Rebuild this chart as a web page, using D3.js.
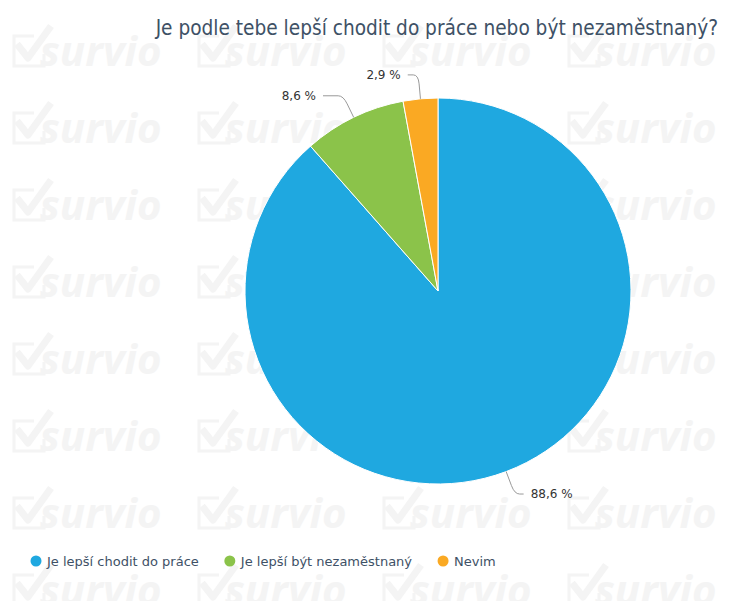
<!DOCTYPE html>
<html>
<head>
<meta charset="utf-8">
<script src="https://cdn.jsdelivr.net/npm/d3@7"></script>
<style>
  body { margin: 0; background: #fff; }
  svg { display: block; }
</style>
</head>
<body>
<div id="chart"></div>
<script>
// chart data
var title = "Je podle tebe lepší chodit do práce nebo být nezaměstnaný?";
var categories = ["Je lepší chodit do práce", "Je lepší být nezaměstnaný", "Nevim"];
var values = [88.6, 8.6, 2.9];
var colors = ["#1fa8e0", "#8bc34a", "#faa923"];

var width = 737, height = 601;
var cx = 438, cy = 291, radius = 193;

var svg = d3.select("#chart").append("svg")
    .attr("width", width)
    .attr("height", height);

// survio watermark tiles behind everything
function draw_watermark (ctx) {
  var g = ctx.append("g").attr("class", "watermark");
  var cols = d3.range(4).map(function (i) { return 14 + i * 185; });
  var rows = d3.range(8).map(function (i) { return 66 + i * 77; });
  rows.forEach(function (y0) {
    cols.forEach(function (x0) {
      g.append("path")
       .attr("d", "M" + (x0 + 20) + "," + (y0 - 30) + " L" + x0 + "," + (y0 - 30) +
                  " L" + x0 + "," + y0 + " L" + (x0 + 30) + "," + y0 + " L" + (x0 + 30) + "," + (y0 - 12))
       .attr("fill", "none")
       .attr("stroke", "#f4f4f4")
       .attr("stroke-width", 3);
      g.append("path")
       .attr("d", "M" + (x0 + 3) + "," + (y0 - 22) + " L" + (x0 + 14) + "," + (y0 - 8) +
                  " L" + (x0 + 37) + "," + (y0 - 40))
       .attr("fill", "none")
       .attr("stroke", "#f4f4f4")
       .attr("stroke-width", 7)
       .attr("stroke-linejoin", "round");
      g.append("text")
       .attr("x", x0 + 26)
       .attr("y", y0)
       .attr("font-family", "'Open Sans', sans-serif")
       .attr("font-weight", "bold")
       .attr("font-style", "italic")
       .attr("font-size", 42)
       .attr("fill", "#f4f4f4")
       .text("survio");
    });
  });
}
draw_watermark(svg);

// title, right aligned, sized to its span
var tt = svg.append("text")
   .attr("x", 718)
   .attr("y", 35)
   .attr("text-anchor", "end")
   .attr("font-family", "'DejaVu Sans Condensed', 'DejaVu Sans', sans-serif")
   .attr("font-size", 20)
   .attr("fill", "#3e5166")
   .text(title);
var tw = tt.node().getComputedTextLength();
tt.attr("font-size", 20 * 563 / tw);

// pie, clockwise from 12 o'clock
var pie = d3.pie().sort(null).value(function (d) { return d; });
var arcs = pie(values);
var arc = d3.arc().innerRadius(0).outerRadius(radius);

var plot = svg.append("g").attr("transform", "translate(" + cx + "," + cy + ")");

plot.selectAll("path.slice")
    .data(arcs)
    .enter().append("path")
    .attr("class", "slice")
    .attr("d", arc)
    .attr("fill", function (d, i) { return colors[i]; })
    .attr("stroke", "#fff")
    .attr("stroke-width", 1);

// data labels with bent connectors
function polar (r, a) {
  return [r * Math.sin(a), -r * Math.cos(a)];
}

var fmt = function (v) { return d3.format(".1f")(v).replace(".", ",") + " %"; };

arcs.forEach(function (d) {
  var mid = (d.startAngle + d.endAngle) / 2;
  var right = Math.sin(mid) >= 0;
  var p = polar(radius, mid);
  var b = polar(radius + 24, mid);
  // left side labels get a longer leg the more sideways they sit
  var leg = right ? 9 : -(8 + 28 * Math.abs(Math.sin(mid)));
  var e = [b[0] + leg, b[1]];
  var c = polar(radius + 15, mid);
  plot.append("path")
      .attr("d", "M" + p[0] + "," + p[1] + " L" + c[0] + "," + c[1] +
                 " Q" + b[0] + "," + b[1] + " " + (b[0] + (right ? 5 : -5)) + "," + b[1] +
                 " L" + e[0] + "," + e[1])
      .attr("fill", "none")
      .attr("stroke", "#999")
      .attr("stroke-width", 1);
  plot.append("text")
      .attr("x", e[0] + (right ? 7 : -7))
      .attr("y", e[1] + 4)
      .attr("text-anchor", right ? "start" : "end")
      .attr("font-family", "'DejaVu Sans', sans-serif")
      .attr("font-size", 12)
      .attr("fill", "#333")
      .text(fmt(d.data));
});

// legend
var legend = svg.append("g").attr("class", "legend");
var lx = 36;
categories.forEach(function (name, i) {
  legend.append("circle")
        .attr("cx", lx)
        .attr("cy", 561)
        .attr("r", 5.5)
        .attr("fill", colors[i]);
  var t = legend.append("text")
        .attr("x", lx + 11)
        .attr("y", 566)
        .attr("font-family", "'DejaVu Sans', sans-serif")
        .attr("font-size", 13)
        .attr("fill", "#3e5166")
        .text(name);
  lx = lx + 11 + t.node().getComputedTextLength() + 31;
});
</script>
</body>
</html>
